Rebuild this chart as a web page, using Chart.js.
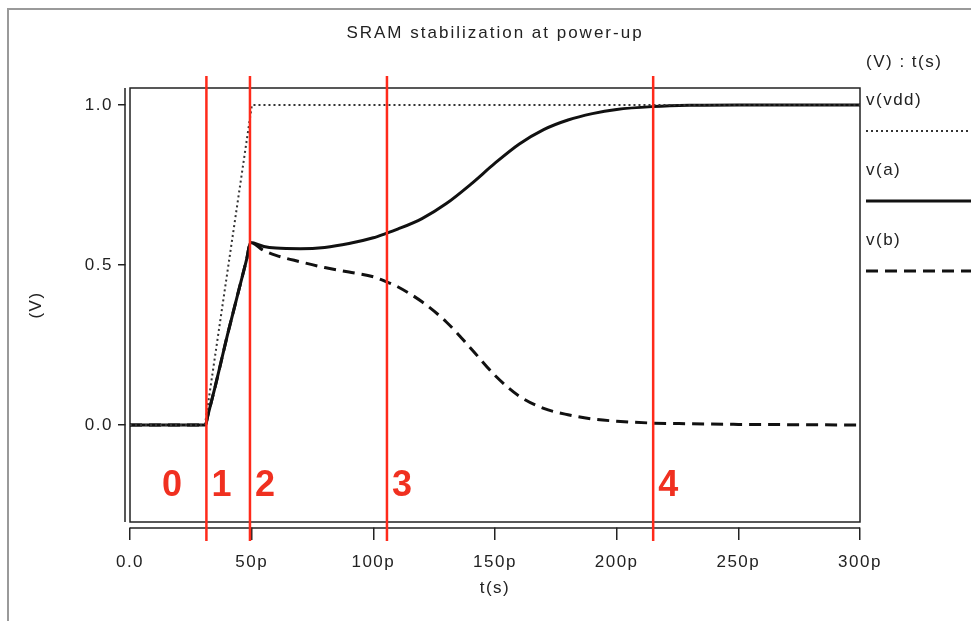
<!DOCTYPE html>
<html>
<head>
<meta charset="utf-8">
<script src="https://cdn.jsdelivr.net/npm/chart.js@4.4.1/dist/chart.umd.min.js"></script>
<style>
  html, body { margin: 0; padding: 0; background: #fff; }
</style>
</head>
<body>
<canvas id="c" width="971" height="621"></canvas>
<script>
// time in ps, node voltages in V
const times = [0, 31, 32, 35, 40, 45, 48, 49.5, 55, 60, 70, 80, 90, 100, 105, 110, 120, 130, 140, 150, 160, 170, 180, 190, 200, 215, 230, 250, 275, 300];
const va = [0, 0, 0.03, 0.12, 0.28, 0.43, 0.52, 0.57, 0.558, 0.553, 0.551, 0.555, 0.567, 0.585, 0.598, 0.612, 0.645, 0.692, 0.752, 0.818, 0.878, 0.923, 0.953, 0.973, 0.986, 0.995, 0.999, 1, 1, 1];
const vb = [0, 0, 0.03, 0.12, 0.28, 0.43, 0.52, 0.57, 0.545, 0.53, 0.51, 0.492, 0.478, 0.463, 0.449, 0.432, 0.385, 0.322, 0.24, 0.155, 0.09, 0.052, 0.032, 0.019, 0.012, 0.006, 0.004, 0.002, 0.001, 0];
const vddTimes = [0, 30.8, 50.1, 300];
const vdd = [0, 0, 1, 1];
const seriesNames = ['v(vdd)', 'v(a)', 'v(b)'];
const yTicks = [0, 0.5, 1.0];
const stageLabels = ['0', '1', '2', '3', '4'];
const stageBounds = [31.4, 49.3, 105.6, 215];

const FONT = '"Liberation Sans", Arial, sans-serif';
Chart.defaults.font.family = FONT;
Chart.defaults.font.size = 17;
Chart.defaults.color = '#222';

const toXY = (ts, vals) => ts.map((t, i) => ({ x: t, y: vals[i] }));

const styles = [
  { borderColor: '#333', borderWidth: 2, borderDash: [2, 3] },
  { borderColor: '#111', borderWidth: 3, borderDash: [] },
  { borderColor: '#111', borderWidth: 3, borderDash: [12, 7] }
];

const decor = {
  id: 'decor',
  beforeDraw(chart) {
    chart.ctx.letterSpacing = '1.5px';
  },
  beforeDatasetsDraw(chart) {
    const { ctx, chartArea: a } = chart;
    ctx.save();
    // gap between plot box and offset axes
    ctx.fillStyle = '#fff';
    ctx.fillRect(a.left - 4.5, a.top - 2, 4.5, a.bottom - a.top + 4);
    ctx.fillRect(a.left - 2, a.bottom, a.right - a.left + 4, 5.5);
    ctx.strokeStyle = '#222';
    ctx.lineWidth = 1.5;
    ctx.beginPath();
    ctx.moveTo(a.left - 5, a.top);
    ctx.lineTo(a.left - 5, a.bottom);
    ctx.moveTo(a.left, a.bottom + 6);
    ctx.lineTo(a.right, a.bottom + 6);
    ctx.stroke();
    ctx.strokeRect(a.left, a.top, a.right - a.left, a.bottom - a.top);
    ctx.restore();
  },
  afterDatasetsDraw(chart) {
    const { ctx, chartArea: a, scales } = chart;
    ctx.save();
    // stage boundaries
    ctx.strokeStyle = '#ff2a1a';
    ctx.lineWidth = 2.5;
    stageBounds.forEach(b => {
      const x = scales.x.getPixelForValue(b);
      ctx.beginPath();
      ctx.moveTo(x, a.top - 12);
      ctx.lineTo(x, a.bottom + 19);
      ctx.stroke();
    });
    ctx.fillStyle = '#f03020';
    ctx.letterSpacing = '0px';
    ctx.font = 'bold 36px ' + FONT;
    ctx.textBaseline = 'middle';
    ctx.textAlign = 'left';
    const yl = scales.y.getPixelForValue(-0.19);
    stageLabels.forEach((s, i) => {
      const x = i === 0 ? a.left + 32 : scales.x.getPixelForValue(stageBounds[i - 1]) + 5;
      ctx.fillText(s, x, yl);
    });

    // title
    ctx.fillStyle = '#222';
    ctx.font = '17px ' + FONT;
    ctx.letterSpacing = '2px';
    ctx.textAlign = 'center';
    ctx.fillText('SRAM stabilization at power-up', (a.left + a.right) / 2, 33);

    // legend on the right
    ctx.letterSpacing = '1.5px';
    ctx.textAlign = 'left';
    const lx = a.right + 6;
    ctx.fillText('(V) : t(s)', lx, 62);
    seriesNames.forEach((name, i) => {
      const y0 = 100 + i * 70;
      ctx.fillStyle = '#222';
      ctx.fillText(name, lx, y0);
      const st = styles[i];
      ctx.strokeStyle = st.borderColor;
      ctx.lineWidth = st.borderWidth;
      ctx.setLineDash(st.borderDash);
      ctx.beginPath();
      ctx.moveTo(lx, y0 + 31);
      ctx.lineTo(971, y0 + 31);
      ctx.stroke();
    });
    ctx.setLineDash([]);

    // outer frame
    ctx.strokeStyle = '#9a9a9a';
    ctx.lineWidth = 2;
    ctx.beginPath();
    ctx.moveTo(8, 621);
    ctx.lineTo(8, 9);
    ctx.lineTo(971, 9);
    ctx.stroke();
    ctx.restore();
  }
};

const seriesData = [toXY(vddTimes, vdd), toXY(times, va), toXY(times, vb)];

new Chart(document.getElementById('c'), {
  type: 'line',
  data: {
    datasets: seriesNames.map((name, i) => ({
      label: name,
      data: seriesData[i],
      borderColor: styles[i].borderColor,
      borderWidth: styles[i].borderWidth,
      borderDash: styles[i].borderDash,
      pointRadius: 0,
      fill: false,
      tension: 0,
      cubicInterpolationMode: i === 0 ? 'default' : 'monotone'
    }))
  },
  options: {
    responsive: false,
    animation: false,
    layout: { padding: { top: 88, right: 111, bottom: 0, left: 0 } },
    plugins: {
      legend: { display: false },
      title: { display: false },
      tooltip: { enabled: false }
    },
    scales: {
      x: {
        type: 'linear',
        min: 0,
        max: 300,
        afterFit(s) { s.height = 99; },
        border: { display: false },
        grid: { drawOnChartArea: false, drawTicks: true, tickLength: 18, color: '#222', lineWidth: 1.5 },
        ticks: {
          stepSize: 50,
          padding: 12,
          maxRotation: 0,
          callback: v => v === 0 ? '0.0' : v + 'p'
        },
        title: { display: true, text: 't(s)', font: { size: 17 }, padding: { top: 22, bottom: 22 } }
      },
      y: {
        min: -0.303,
        max: 1.053,
        afterFit(s) { s.width = 130; },
        afterBuildTicks(s) { s.ticks = yTicks.map(v => ({ value: v })); },
        border: { display: false },
        grid: { drawOnChartArea: false, drawTicks: true, tickLength: 12, color: '#222', lineWidth: 1.5 },
        ticks: {
          padding: 5,
          callback: v => v.toFixed(1)
        },
        title: { display: true, text: '(V)', font: { size: 17 }, padding: { top: 26, bottom: 0 } }
      }
    }
  },
  plugins: [decor]
});
</script>
</body>
</html>
